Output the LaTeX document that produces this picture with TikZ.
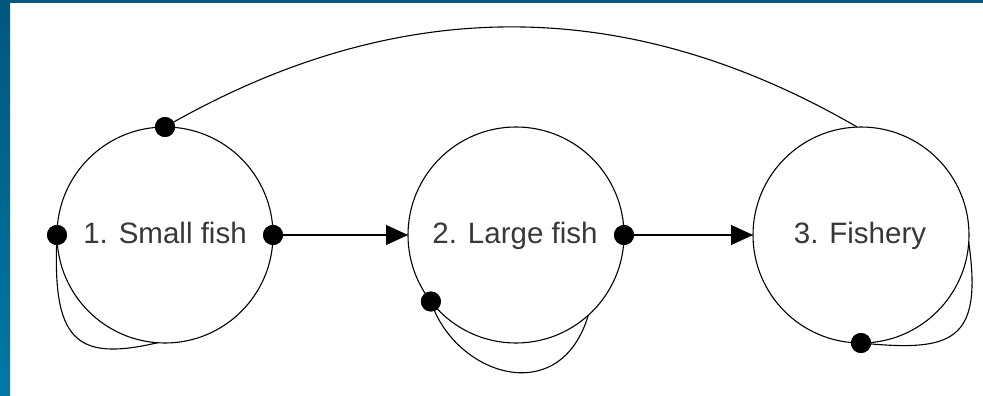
\documentclass[tikz,border=0pt]{standalone}
\usepackage{fontspec}
\setmainfont{Liberation Sans}
\usetikzlibrary{arrows.meta}
\definecolor{frametop}{HTML}{00577E}
\definecolor{framebot}{HTML}{0078A6}
\begin{document}
\begin{tikzpicture}[x=1pt,y=-1pt,
  state/.style={circle,draw=black,line width=1.1pt,minimum size=216pt,inner sep=0pt,outer sep=0pt},
  lbl/.style={inner sep=0pt,outer sep=0pt,anchor=base,text=black!78,font=\fontsize{29.5}{34}\selectfont},
  dot/.style={circle,fill=black,minimum size=20pt,inner sep=0pt,outer sep=0pt},
  conn/.style={line width=1.1pt,draw=black},
  arr/.style={conn,-{Triangle[length=22pt,width=20pt]}}]
\useasboundingbox (0,0) rectangle (983,396);
\fill[white] (0,0) rectangle (983,396);
\shade[top color=frametop,bottom color=framebot] (0pt,0pt) rectangle (10pt,-396pt);
\fill[frametop] (0,0) rectangle (983,3);
% states
\node[state] (c1) at (165,235) {};
\node[state] (c2) at (516,235) {};
\node[state] (c3) at (861,235) {};
\node[lbl] (t1) at (165,243) {1. Small fish};
\node[lbl] (t2) at (515,243) {2. Large fish};
\node[lbl] (t3) at (860,243) {3. Fishery};
% dots
\node[dot] (d1w) at (c1.west) {};
\node[dot] (d1e) at (c1.east) {};
\node[dot] (d1n) at (c1.north) {};
\node[dot] (d2e) at (c2.east) {};
\node[dot] (d2s) at (c2.218) {};
\node[dot] (d3s) at (c3.south) {};
% connectors
\draw[arr] (d1e.center) -- (c2.west);
\draw[arr] (d2e.center) -- (c3.west);
\draw[conn] (d1n.center) .. controls (396,-6) and (626,-7) .. (c3.92);
\draw[conn] (d1w.center) .. controls (52,340) and (75,362) .. (c1.266);
\draw[conn] (d2s.center) .. controls (455,375) and (560,410) .. (c2.-48);
\draw[conn] (d3s.center) .. controls (952,352) and (983,342) .. (c3.-4);
% redraw dots on top
\node[dot] at (d1w) {};
\node[dot] at (d1e) {};
\node[dot] at (d1n) {};
\node[dot] at (d2e) {};
\node[dot] at (d2s) {};
\node[dot] at (d3s) {};
\end{tikzpicture}
\end{document}
